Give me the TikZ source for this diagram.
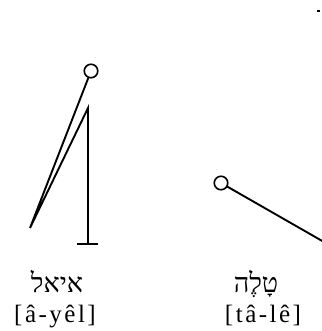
\documentclass[tikz,border=0pt]{standalone}
\usepackage{fontspec}
\setmainfont{Liberation Serif}
\newfontfamily\hebfont[Script=Hebrew]{Liberation Serif}
\newfontfamily\translitfont[LetterSpace=10]{Liberation Serif}
\TeXXeTstate=1
\begin{document}
\begin{tikzpicture}[x=1pt, y=-1pt,
        stroke/.style={line width=1.9pt, line cap=round, line join=miter},
        ring/.style={circle, draw, line width=1.6pt, minimum size=13.5pt, inner sep=0pt},
        heb/.style={anchor=base, inner sep=0pt, font=\hebfont\fontsize{27}{27}\selectfont},
        translit/.style={anchor=base, inner sep=0pt, font=\translitfont\fontsize{25}{25}\selectfont}]
            \useasboundingbox (0,0) rectangle (321,331);
            % Left figure
            \node[ring] (headA) at (91,71) {};
            \coordinate (footA) at (30,228);
            \coordinate (topA) at (88,108);
            \coordinate (baseA) at (88,244);
            \coordinate (barL) at (77,244);
            \coordinate (barR) at (98,244);
            \draw[stroke] (headA) -- (footA) -- (topA) -- (baseA);
            \draw[stroke, line cap=butt] (barL) -- (barR);
            % Right figure
            \node[ring] (headB) at (221,183) {};
            \coordinate (endB) at (324,242);
            \draw[stroke] (headB) -- (endB);
            % Mark top right
            \fill (317,10) rectangle (320,12.5);
            % Labels
            \node[heb] (hebA) at (57,292) {\beginR איאל\endR};
            \node[translit] (trA) at (55,322) {[â-yêl]};
            \node[heb] (hebB) at (256,292) {\beginR טָלֶה\endR};
            \node[translit] (trB) at (263,322) {[tâ-lê]};
        \end{tikzpicture}
\end{document}
